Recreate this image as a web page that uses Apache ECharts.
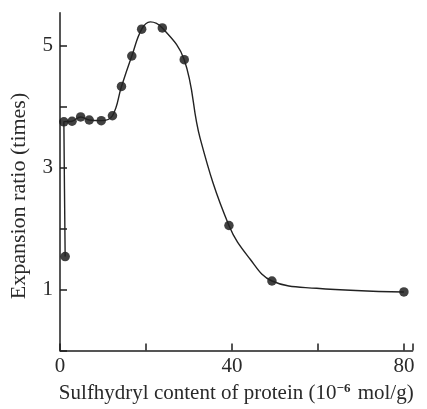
<!DOCTYPE html>
<html>
<head>
<meta charset="utf-8">
<script src="https://cdn.jsdelivr.net/npm/echarts@6/dist/echarts.min.js"></script>
<style>html,body{margin:0;padding:0;background:#fff}#c{width:427px;height:409px}</style>
</head>
<body>
<div id="c"></div>
<script>
// Measured points: sulfhydryl content (10^-6 mol/g) vs expansion ratio (times)
var sulfhydryl = [1.2, 0.9, 2.8, 4.8, 6.8, 9.6, 12.2, 14.3, 16.7, 19.0, 23.8, 28.9, 39.3, 49.3, 80];
var expansion  = [1.54, 3.75, 3.76, 3.83, 3.78, 3.77, 3.85, 4.33, 4.83, 5.27, 5.29, 4.77, 2.05, 1.14, 0.96];
// Hand-drawn fitted curve
var curveX = [1.2, 0.9, 2.8, 4.8, 6.8, 9.6, 12.2, 14.3, 16.7, 19.0, 21.0, 23.8, 28.9, 32.6, 39.3, 44.2, 49.3, 59.7, 80];
var curveY = [1.54, 3.75, 3.76, 3.83, 3.78, 3.77, 3.85, 4.33, 4.83, 5.27, 5.39, 5.29, 4.77, 3.48, 2.05, 1.50, 1.14, 1.02, 0.96];
var xTickLabels = [0, 40, 80];
var yTickLabels = [1, 3, 5];

var dots = sulfhydryl.map(function (x, i) { return [x, expansion[i]]; });
var curve = curveX.map(function (x, i) { return [x, curveY[i]]; });
var serif = 'Liberation Serif';
var ink = '#1e1e1e';
var chart = echarts.init(document.getElementById('c'));
chart.setOption({
  animation: false,
  backgroundColor: '#fff',
  grid: { left: 60, right: 14.5, top: 12.7, bottom: 54 },
  xAxis: {
    type: 'value', min: 0, max: 82, interval: 20,
    splitLine: { show: false },
    axisLine: { lineStyle: { color: ink, width: 1.5 } },
    axisTick: { inside: true, length: 7, lineStyle: { color: ink, width: 1.5 } },
    axisLabel: {
      margin: 5, fontFamily: serif, fontSize: 21, color: '#2a2a2a',
      formatter: function (v) { return xTickLabels.indexOf(v) >= 0 ? String(v) : ''; }
    },
    name: 'Sulfhydryl content of protein (10{sup|−6} mol/g)',
    nameLocation: 'middle', nameGap: 32,
    nameTextStyle: {
      fontFamily: serif, fontSize: 21, color: '#2a2a2a',
      rich: { sup: { fontFamily: serif, fontSize: 13, fontWeight: 'bold', color: '#2a2a2a', padding: [0, 2, 9, 0] } }
    }
  },
  yAxis: {
    type: 'value', min: 0, max: 5.54, interval: 1,
    splitLine: { show: false },
    axisLine: { lineStyle: { color: ink, width: 1.5 } },
    axisTick: { inside: true, length: 7, lineStyle: { color: ink, width: 1.5 } },
    axisLabel: {
      margin: 7, fontFamily: serif, fontSize: 21, color: '#2a2a2a', showMaxLabel: false,
      formatter: function (v) { return yTickLabels.indexOf(v) >= 0 ? String(v) : ''; }
    }
  },
  graphic: [{
    type: 'text', x: 19, y: 196, rotation: Math.PI / 2,
    style: { text: 'Expansion ratio (times)', fontFamily: serif, fontSize: 22, fill: '#2a2a2a', align: 'center', verticalAlign: 'middle' }
  }],
  series: [{
    name: 'curve', type: 'line', data: curve, smooth: 0.4,
    showSymbol: false, silent: true,
    lineStyle: { color: '#222', width: 1.4 }
  }, {
    name: 'measured', type: 'scatter', data: dots,
    symbol: 'circle', symbolSize: 9.5,
    itemStyle: { color: '#111' }
  }]
});
</script>
</body>
</html>
